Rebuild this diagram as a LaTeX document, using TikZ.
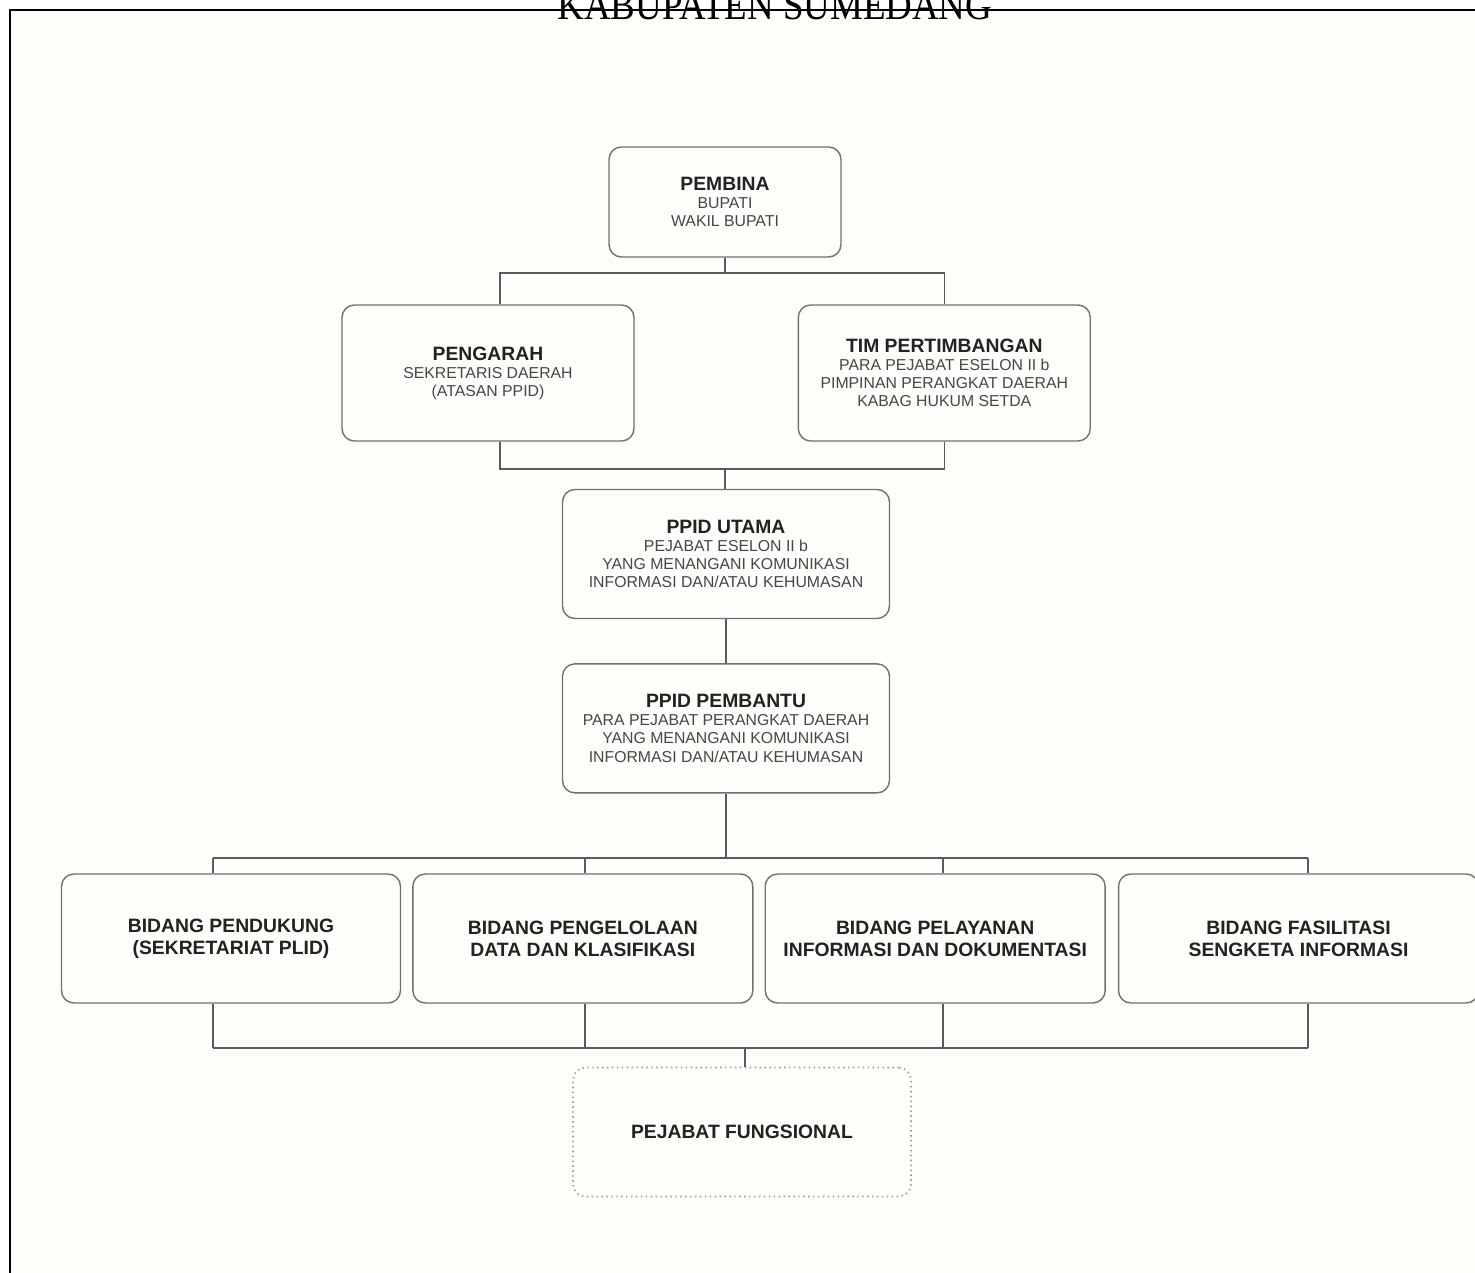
\documentclass[tikz,border=0pt]{standalone}
\usepackage{fontspec}
\setmainfont{Liberation Serif}
\setsansfont{Liberation Sans}
\usepackage{tikz}
\usetikzlibrary{positioning,calc}

\definecolor{boxline}{RGB}{112,112,112}
\definecolor{linkline}{RGB}{90,90,90}
\definecolor{paper}{RGB}{253,253,250}
\definecolor{headtext}{RGB}{34,34,34}
\definecolor{subtext}{RGB}{70,70,70}

\newcommand{\headtxt}[1]{{\fontsize{11}{12.5}\selectfont\bfseries\color{headtext}#1}}

\tikzset{
  orgbox/.style={draw=boxline, line width=0.8pt, rounded corners=7pt,
    align=center, inner sep=0pt, text=subtext,
    font=\sffamily\fontsize{9}{10.3}\selectfont},
  bidangbox/.style={orgbox, minimum width=6.8cm, minimum height=2.58cm,
    font=\sffamily\bfseries\fontsize{11}{12.5}\selectfont, text=headtext},
  fungsibox/.style={bidangbox, draw=boxline!70, dotted, line width=1pt},
  link/.style={draw=linkline, line width=0.8pt},
  frameline/.style={draw=black, line width=1.3pt}
}

\begin{document}
\begin{tikzpicture}[x=0.02cm, y=-0.02cm, node distance=0.22cm]
  \useasboundingbox (0,0) rectangle (1475,1273);
  \fill[paper] (10,10) rectangle (1475,1273);
  \draw[frameline] (10,1273) -- (10,10) -- (1475,10);
  \node[anchor=base, font=\fontsize{24}{24}\selectfont] (kab) at (775,20)
    {\scalebox{0.876}[1]{KABUPATEN SUMEDANG}};

  % atas
  \node[orgbox, minimum width=4.64cm, minimum height=2.2cm] (pembina) at (725,202)
    {\headtxt{PEMBINA}\\BUPATI\\WAKIL BUPATI};
  \node[orgbox, minimum width=5.84cm, minimum height=2.72cm] (pengarah) at (488,373)
    {\headtxt{PENGARAH}\\SEKRETARIS DAERAH\\(ATASAN PPID)};
  \node[orgbox, minimum width=5.84cm, minimum height=2.72cm] (tim) [right=3.26cm of pengarah]
    {\headtxt{TIM PERTIMBANGAN}\\PARA PEJABAT ESELON II b\\PIMPINAN PERANGKAT DAERAH\\KABAG HUKUM SETDA};
  \node[orgbox, minimum width=6.54cm, minimum height=2.58cm] (utama) at (726,554)
    {\headtxt{PPID UTAMA}\\PEJABAT ESELON II b\\YANG MENANGANI KOMUNIKASI\\INFORMASI DAN/ATAU KEHUMASAN};
  \node[orgbox, minimum width=6.54cm, minimum height=2.58cm] (pembantu) [below=0.88cm of utama]
    {\headtxt{PPID PEMBANTU}\\PARA PEJABAT PERANGKAT DAERAH\\YANG MENANGANI KOMUNIKASI\\INFORMASI DAN/ATAU KEHUMASAN};

  % bidang
  \node[bidangbox, minimum width=6.78cm] (b1) at (231,938.5) {BIDANG PENDUKUNG\\(SEKRETARIAT PLID)};
  \node[bidangbox] (b2) [right=of b1] {BIDANG PENGELOLAAN\\DATA DAN KLASIFIKASI};
  \node[bidangbox] (b3) [right=of b2] {BIDANG PELAYANAN\\INFORMASI DAN DOKUMENTASI};
  \node[bidangbox, minimum width=7.2cm] (b4) [right=0.24cm of b3] {BIDANG FASILITASI\\SENGKETA INFORMASI};
  \node[fungsibox, minimum width=6.76cm] (fungsional) at (742,1132) {PEJABAT FUNGSIONAL};

  % garis
  \coordinate (topbus) at (725,273);
  \coordinate (midbus) at (725,469);
  \draw[link] (pembina) -- (topbus);
  \draw[link] ($(pengarah.north)+(12,0)$) |- (topbus) -| (tim.north);
  \draw[link] ($(pengarah.south)+(12,0)$) |- (midbus) -| (tim.south);
  \draw[link] (midbus) -- (midbus |- utama.north);
  \draw[link] (utama) -- (pembantu);
  \foreach \n/\x in {b1/213,b2/585,b3/943,b4/1308}{
    \coordinate (top\n) at (\x,858);
    \coordinate (bot\n) at (\x,1048);
    \draw[link] (top\n) -- (top\n |- \n.north);
    \draw[link] (bot\n) -- (bot\n |- \n.south);
  }
  \draw[link] (topb1) -- (topb4);
  \draw[link] (botb1) -- (botb4);
  \draw[link] (pembantu.south) -- (pembantu.south |- topb1);
  \coordinate (fj) at (745,1048);
  \draw[link] (fj) -- (fj |- fungsional.north);
\end{tikzpicture}
\end{document}
